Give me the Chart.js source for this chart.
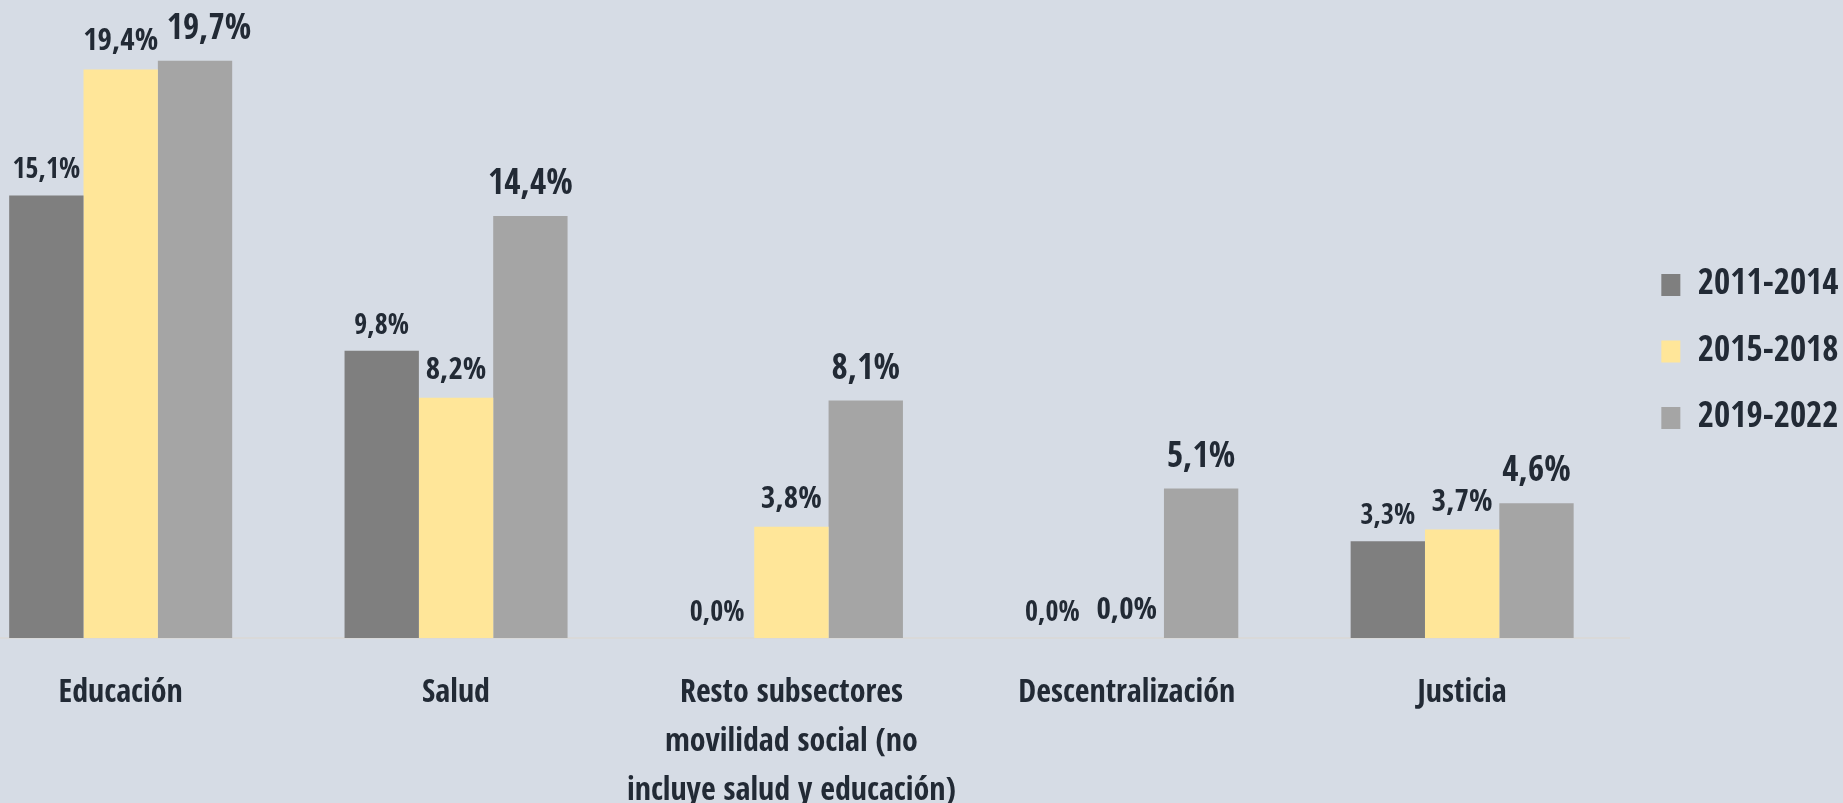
<!DOCTYPE html>
<html>
<head>
<meta charset="utf-8">
<script src="https://cdn.jsdelivr.net/npm/chart.js@4/dist/chart.umd.min.js"></script>
<style>
    html, body { margin: 0; padding: 0; background: #d6dce5; overflow: hidden; }
    #wrap { position: absolute; left: -47px; top: 0; width: 1890px; height: 803px; }
</style>
</head>
<body>
<div id="wrap"><canvas id="myChart"></canvas></div>
<script>
// data
const categories = [
    'Educación',
    'Salud',
    ['Resto subsectores', 'movilidad social (no', 'incluye salud y educación)'],
    'Descentralización',
    'Justicia'
];
const periods = ['2011-2014', '2015-2018', '2019-2022'];
const s2011 = [15.1, 9.8, 0.0, 0.0, 3.3];
const s2015 = [19.4, 8.2, 3.8, 0.0, 3.7];
const s2019 = [19.7, 14.4, 8.1, 5.1, 4.6];

const FONT = '"Open Sans Condensed", "Open Sans", sans-serif';
const TEXT = '#222a35';
const colors = ['#7f7f7f', '#ffe699', '#a5a5a5'];
const labelSizes = [28, 31, 35];
const labelGaps = [17, 19, 22];
// the 19,7% label sits a bit to the right so it does not touch 19,4%
const labelNudge = { '2-0': 14 };

function fmt(v) {
    return v.toFixed(1).replace('.', ',') + '%';
}

// value labels above each bar
const valueLabels = {
    id: 'valueLabels',
    afterDatasetsDraw(chart) {
        const ctx = chart.ctx;
        chart.data.datasets.forEach((ds, i) => {
            const meta = chart.getDatasetMeta(i);
            ctx.save();
            ctx.font = 'bold ' + labelSizes[i] + 'px ' + FONT;
            ctx.fillStyle = TEXT;
            ctx.textAlign = 'center';
            ctx.textBaseline = 'alphabetic';
            meta.data.forEach((bar, j) => {
                const dx = labelNudge[i + '-' + j] || 0;
                ctx.fillText(fmt(ds.data[j]), bar.x + dx, bar.y - labelGaps[i]);
            });
            ctx.restore();
        });
    }
};

const data = {
    labels: categories,
    datasets: [s2011, s2015, s2019].map((values, i) => ({
        label: periods[i],
        data: values,
        backgroundColor: colors[i],
        borderWidth: 0,
        barPercentage: 1.0,
        categoryPercentage: 0.665
    }))
};

const config = {
    type: 'bar',
    data: data,
    plugins: [valueLabels],
    options: {
        responsive: true,
        maintainAspectRatio: false,
        animation: false,
        layout: { padding: { top: 0, right: -5.5, bottom: 0, left: 0 } },
        scales: {
            x: {
                grid: { display: false, drawTicks: false },
                border: { display: true, color: '#d9d9d9', width: 2 },
                ticks: {
                    color: TEXT,
                    padding: 31,
                    maxRotation: 0,
                    autoSkip: false,
                    font: { family: FONT, size: 32, weight: 'bold', lineHeight: 1.53 }
                },
                afterFit(scale) { scale.height = 165; }
            },
            y: {
                display: false,
                min: 0,
                max: 21.77
            }
        },
        plugins: {
            tooltip: { enabled: false },
            legend: {
                position: 'right',
                align: 'start',
                title: { display: true, text: '', padding: { top: 224, bottom: 0 }, font: { size: 10 } },
                labels: {
                    color: TEXT,
                    boxWidth: 19,
                    boxHeight: 22,
                    padding: 31.5,
                    font: { family: FONT, size: 35, weight: 'bold' }
                }
            }
        }
    }
};

const myChart = new Chart(document.getElementById('myChart').getContext('2d'), config);
</script>
</body>
</html>
